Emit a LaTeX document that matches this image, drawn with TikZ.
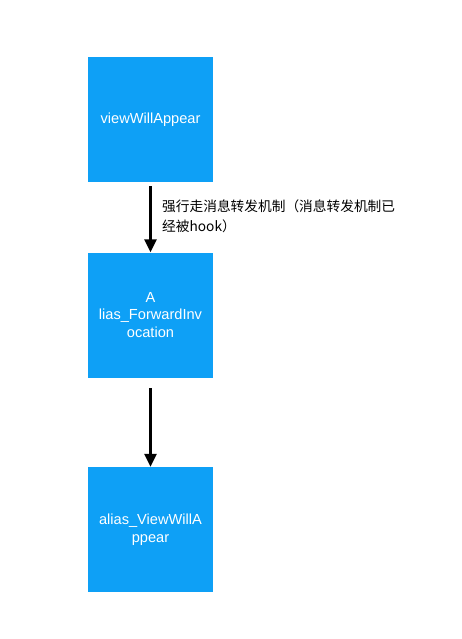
\documentclass[tikz,border=0pt]{standalone}
\usepackage{fontspec}
\setmainfont{Liberation Sans}
\newfontfamily\cjk{Noto Sans CJK SC}
\usetikzlibrary{arrows.meta}
\definecolor{boxblue}{RGB}{14,160,246}
\begin{document}
\begin{tikzpicture}[x=1pt,y=-1pt,
  bluebox/.style={fill=boxblue,draw=none,minimum width=125pt,minimum height=125pt,inner sep=0pt,text=white,font=\fontsize{14.6}{17.5}\selectfont,align=center},
  flow/.style={line width=3pt,-{Triangle[width=12pt,length=13pt]}}]
\useasboundingbox (0,0) rectangle (462,639);
\fill[white] (0,0) rectangle (462,639);
\node[bluebox] (a) at (150.5,119.5) {viewWillAppear};
\node[bluebox] (b) at (150.5,315) {A\\lias\_ForwardInv\\ocation};
\node[bluebox] (c) at (150.5,529.5) {alias\_ViewWillA\\ppear};
\coordinate (a1) at (150.5,186);
\coordinate (b1) at (150.5,388);
\draw[flow] (a1) -- (b.north);
\draw[flow] (b1) -- (c.north);
\node[anchor=west,align=left,inner sep=0pt,font=\cjk\fontsize{13.7}{20}\selectfont] (lbl) at (162,216.5) {强行走消息转发机制（消息转发机制已\\经被hook）};
\end{tikzpicture}
\end{document}
